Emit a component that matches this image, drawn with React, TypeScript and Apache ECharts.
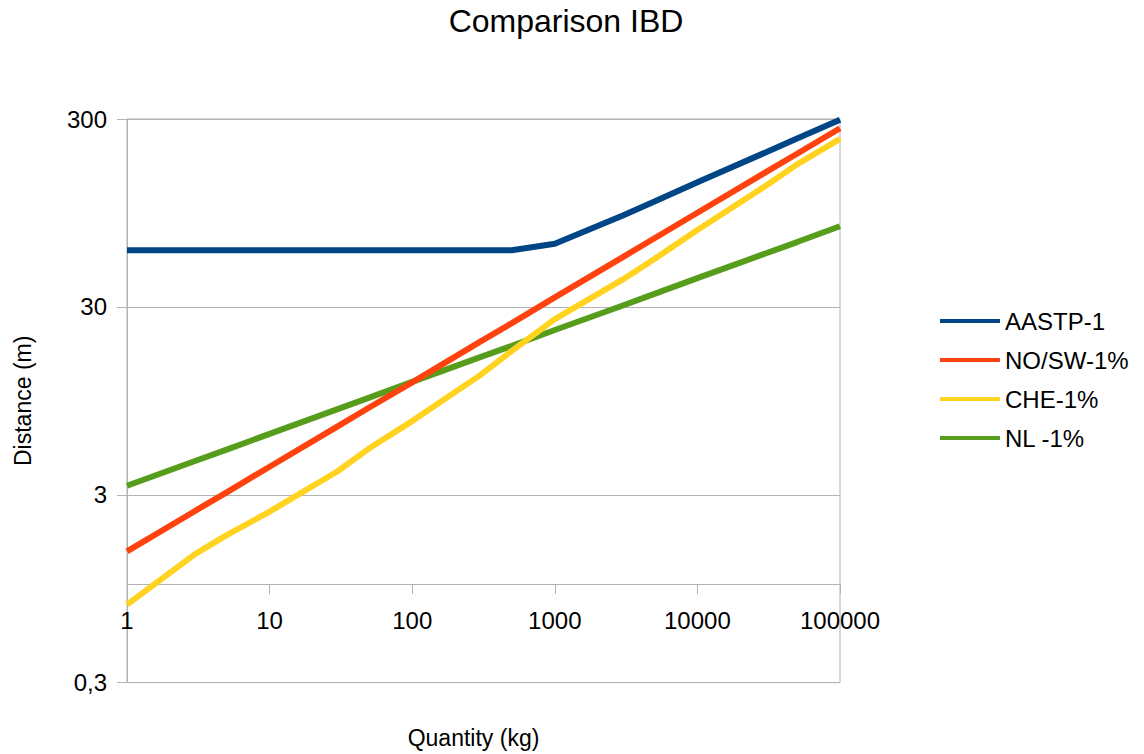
import React, { useEffect, useRef } from "react";
import * as echarts from "echarts";

const quantities = [1, 3, 5, 10, 30, 50, 100, 300, 500, 1000, 3000, 5000, 10000, 30000, 50000, 100000];
const aastp1 = [60, 60, 60, 60, 60, 60, 60, 60, 60, 65, 92, 109, 138, 199, 236, 297];
const noSw = [1.5, 2.46, 3.09, 4.23, 6.94, 8.74, 11.9, 19.6, 24.6, 33.7, 55.2, 69.6, 95.1, 156, 196, 268];
const che = [0.78, 1.45, 1.83, 2.44, 4.0, 5.3, 7.4, 13, 17.5, 25.8, 42, 54, 77, 132, 172, 235];
const nl = [3.35, 4.54, 5.22, 6.33, 8.57, 9.86, 11.96, 16.2, 18.6, 22.6, 30.5, 35.2, 42.7, 57.7, 66.4, 80.6];
const seriesNames = ["AASTP-1", "NO/SW-1%", "CHE-1%", "NL -1%"];
const seriesColors = ["#004586", "#ff420e", "#ffd320", "#579d1c"];
const yTicks = [0.3, 3, 30, 300];
const xTicks = [1, 10, 100, 1000, 10000, 100000];

const W = 1144;
const H = 754;
const GRID = { left: 127, right: 304, top: 119, bottom: 69 };
const FONT = "'Liberation Sans', Arial, sans-serif";
const GRAY = "#b3b3b3";

export default function App() {
  const ref = useRef<HTMLDivElement>(null);
  useEffect(() => {
    if (!ref.current) return;
    const chart = echarts.init(ref.current, undefined, { renderer: "svg" });
    const yMin = yTicks[0];
    const yMax = yTicks[yTicks.length - 1];
    const gridH = H - GRID.top - GRID.bottom;
    const xAxisOffset = -(gridH * Math.log10(1 / yMin)) / Math.log10(yMax / yMin);
    const all = [aastp1, noSw, che, nl];
    chart.setOption({
      animation: false,
      backgroundColor: "#ffffff",
      textStyle: { fontFamily: FONT },
      title: {
        text: "Comparison IBD",
        left: 561,
        top: 0,
        textAlign: "center",
        textStyle: { fontFamily: FONT, fontSize: 32, fontWeight: "normal", color: "#000" },
      },
      grid: { ...GRID, show: true, borderColor: GRAY, borderWidth: 1, containLabel: false },
      legend: {
        orient: "vertical",
        left: 940,
        top: 309,
        padding: 0,
        icon: "rect",
        itemWidth: 60,
        itemHeight: 4,
        itemGap: 15,
        data: seriesNames,
        textStyle: { fontFamily: FONT, fontSize: 24, color: "#000", lineHeight: 24 },
      },
      xAxis: {
        type: "log",
        logBase: 10,
        min: xTicks[0],
        max: xTicks[xTicks.length - 1],
        offset: xAxisOffset,
        name: "Quantity (kg)",
        nameLocation: "middle",
        nameGap: 142,
        nameTextStyle: { fontFamily: FONT, fontSize: 23, color: "#000", padding: [0, 20, 0, 0] },
        axisLine: { show: true, onZero: false, lineStyle: { color: GRAY, width: 1 } },
        axisTick: { show: true, length: 10, inside: false, lineStyle: { color: GRAY } },
        axisLabel: {
          margin: 24,
          fontFamily: FONT,
          fontSize: 24,
          color: "#000",
          showMinLabel: true,
          showMaxLabel: true,
          formatter: (v: number) => String(Math.round(v)),
        },
        splitLine: { show: false },
        minorTick: { show: false },
      },
      yAxis: {
        type: "log",
        logBase: 10,
        min: yMin,
        max: yMax,
        name: "Distance (m)",
        nameLocation: "middle",
        nameGap: 93,
        nameTextStyle: { fontFamily: FONT, fontSize: 23, color: "#000" },
        axisLine: { show: true, lineStyle: { color: GRAY, width: 1 } },
        axisTick: { show: true, length: 10, inside: false, customValues: yTicks, lineStyle: { color: GRAY } },
        axisLabel: {
          margin: 20,
          fontFamily: FONT,
          fontSize: 24,
          color: "#000",
          customValues: yTicks,
          formatter: (v: number) => String(v).replace(".", ","),
        },
        splitLine: { show: true, lineStyle: { color: GRAY, width: 1 } },
      },
      series: seriesNames.map((name, i) => ({
        name,
        type: "line",
        data: quantities.map((q, j) => [q, all[i][j]]),
        symbol: "none",
        showSymbol: false,
        color: seriesColors[i],
        lineStyle: { color: seriesColors[i], width: 6 },
        z: 10 - i,
      })),
    });
    return () => chart.dispose();
  }, []);
  return (
    <div
      ref={ref}
      style={{ position: "fixed", left: 0, top: 0, width: W, height: H, background: "#fff" }}
    />
  );
}
